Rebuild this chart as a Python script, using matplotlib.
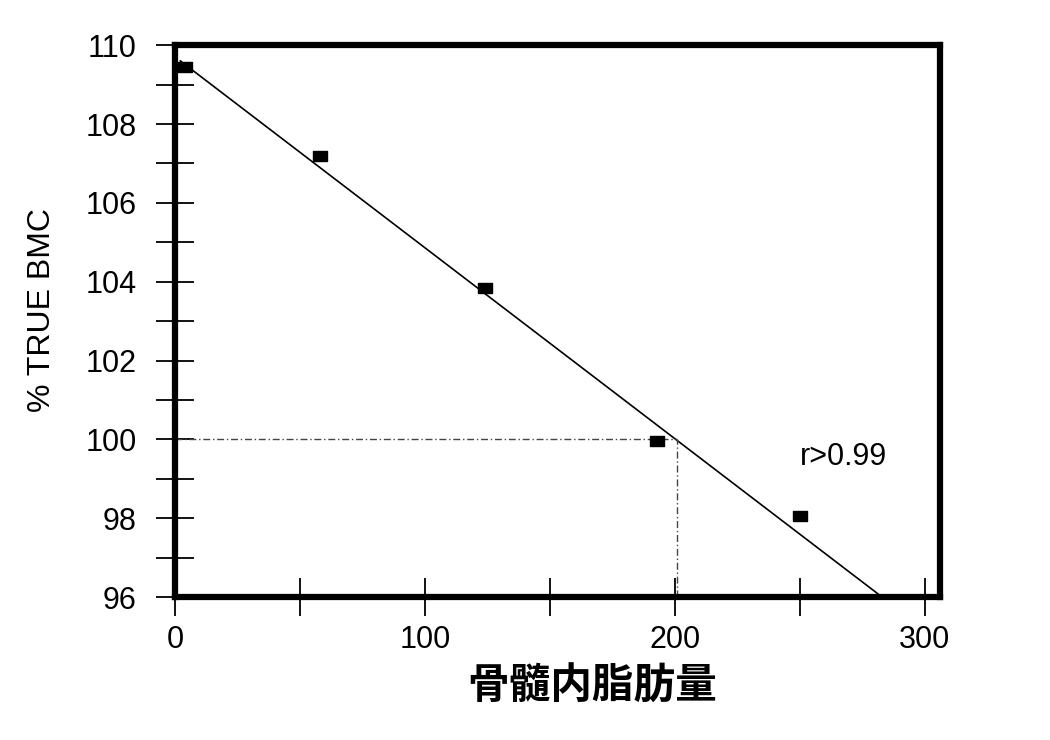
import numpy as np
import matplotlib.pyplot as plt

# data
fat_x = [4, 58, 124, 193, 250]
bmc_y = [109.45, 107.2, 103.85, 99.97, 98.05]
fit_x = [2, 283]
fit_y = [109.6, 96.0]
cross_x = 201
cross_y = 100
r_label = 'r>0.99'
x_label = '骨髓内脂肪量'
y_label = '% TRUE BMC'

plt.rcParams['font.family'] = ['Liberation Sans', 'DejaVu Sans']

fig = plt.figure(figsize=(10.5, 7.4), dpi=100)
ax = fig.add_axes([0.167, 0.193, 0.728, 0.746])

ax.plot(fit_x, fit_y, color='black', lw=1.2)
ax.plot([0, cross_x], [cross_y, cross_y], color='#444444', lw=1.0,
        linestyle=(0, (5, 2, 1, 2)))
ax.plot([cross_x, cross_x], [96, cross_y], color='#444444', lw=1.0,
        linestyle=(0, (5, 2, 1, 2)))

rect = [(-1.5, -1), (1.5, -1), (1.5, 1), (-1.5, 1), (-1.5, -1)]
ax.plot(fat_x, bmc_y, linestyle='none', marker=rect, ms=10,
        color='black', clip_on=False, zorder=5)

ax.text(250, 99.55, r_label, fontsize=22, ha='left', va='center')

ax.set_xlim(0, 306)
ax.set_ylim(96, 110)
ax.set_xticks([0, 50, 100, 150, 200, 250, 300])
ax.set_xticklabels(['0', '', '100', '', '200', '', '300'])
yt = np.arange(96, 111, 1)
ax.set_yticks(yt)
ax.set_yticklabels([str(v) if v % 2 == 0 else '' for v in yt])

ax.tick_params(axis='both', direction='inout', length=28, width=1.3,
               labelsize=22)
ax.tick_params(axis='x', pad=6)
ax.tick_params(axis='y', pad=14)
for s in ax.spines.values():
  s.set_linewidth(4.5)

ax.set_xlabel(x_label, fontsize=30, fontweight='bold',
              family=['Noto Sans CJK JP', 'DejaVu Sans'])
ax.xaxis.set_label_coords(0.545, -0.125)
ax.set_ylabel(y_label, fontsize=23)
ax.yaxis.set_label_coords(-0.155, 0.52)

fig.savefig('out.png', dpi=100)
